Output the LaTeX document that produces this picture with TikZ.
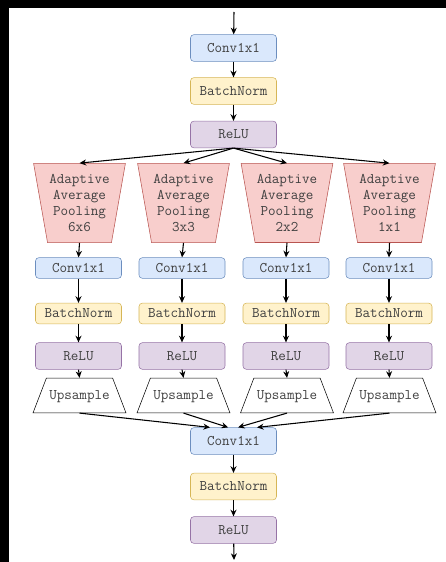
\documentclass[tikz,border=0pt]{standalone}
\usetikzlibrary{arrows.meta,shapes.geometric}

\definecolor{convfill}{HTML}{DAE8FC}
\definecolor{convline}{HTML}{6C8EBF}
\definecolor{bnfill}{HTML}{FFF2CC}
\definecolor{bnline}{HTML}{D6B656}
\definecolor{relufill}{HTML}{E1D5E7}
\definecolor{reluline}{HTML}{9673A6}
\definecolor{poolfill}{HTML}{F8CECC}
\definecolor{poolline}{HTML}{B85450}

\begin{document}
\begin{tikzpicture}[x=0.75pt,y=0.75pt]
\tikzstyle{every node}+=[inner sep=0pt, align=center, text=black!75, font=\ttfamily\fontsize{11}{12}\selectfont]
\tikzstyle{box}=[rounded corners=2.5pt, minimum width=64.5pt, minimum height=20pt]
\tikzstyle{conv}=[box, draw=convline, fill=convfill]
\tikzstyle{bnorm}=[box, draw=bnline, fill=bnfill]
\tikzstyle{relu}=[box, draw=reluline, fill=relufill]
\tikzstyle{small}=[minimum height=15.5pt]
\tikzstyle{pool}=[draw=poolline, fill=poolfill, trapezium, shape border rotate=180, trapezium left angle=80, trapezium right angle=80, inner xsep=1.3pt, inner ysep=8.2pt]
\tikzstyle{upsmp}=[draw=black, fill=white, trapezium, trapezium left angle=69, trapezium right angle=69, text height=7.5pt, text depth=2pt, inner xsep=2.2pt, inner ysep=8.25pt]
\tikzstyle{flow}=[draw=black, line width=0.8pt, -{Stealth[length=5pt,width=4.5pt]}]
% frame
\fill [black] (0,0) rectangle (446,562);
\fill [white] (9,0) rectangle (446,554);
% stem
\coordinate (in) at (234,550);
\node [conv] (conv0) at (233.5,514) {Conv1x1};
\node [bnorm] (bn0) at (233.5,471) {BatchNorm};
\node [relu] (relu0) at (233.5,427.5) {ReLU};
\draw [flow] (in) -- (conv0);
\draw [flow] (conv0) -- (bn0);
\draw [flow] (bn0) -- (relu0);
% pooling branches
\node [pool] (pool1) at (79.5,359) {Adaptive\\Average\\Pooling\\6x6};
\node [pool] (pool2) at (183.5,359) {Adaptive\\Average\\Pooling\\3x3};
\node [pool] (pool3) at (287,359) {Adaptive\\Average\\Pooling\\2x2};
\node [pool] (pool4) at (389.5,359) {Adaptive\\Average\\Pooling\\1x1};
\node [conv, small] (conv1) at (78.5,294) {Conv1x1};
\node [conv, small] (conv2) at (182,294) {Conv1x1};
\node [conv, small] (conv3) at (286,294) {Conv1x1};
\node [conv, small] (conv4) at (389,294) {Conv1x1};
\node [bnorm, small] (bn1) at (78.5,248.5) {BatchNorm};
\node [bnorm, small] (bn2) at (182,248.5) {BatchNorm};
\node [bnorm, small] (bn3) at (286,248.5) {BatchNorm};
\node [bnorm, small] (bn4) at (389,248.5) {BatchNorm};
\node [relu] (relu1) at (78.5,206) {ReLU};
\node [relu] (relu2) at (182,206) {ReLU};
\node [relu] (relu3) at (286,206) {ReLU};
\node [relu] (relu4) at (389,206) {ReLU};
\node [upsmp] (up1) at (79.5,166.5) {Upsample};
\node [upsmp] (up2) at (183.5,166.5) {Upsample};
\node [upsmp] (up3) at (287,166.5) {Upsample};
\node [upsmp] (up4) at (389.5,166.5) {Upsample};
\draw [flow] (relu0.south) -- (pool1.north);
\draw [flow] (relu0.south) -- (pool2.north);
\draw [flow] (relu0.south) -- (pool3.north);
\draw [flow] (relu0.south) -- (pool4.north);
\draw [flow] (pool1.south) -- (conv1.north);
\draw [flow] (pool2.south) -- (conv2.north);
\draw [flow] (pool3.south) -- (conv3.north);
\draw [flow] (pool4.south) -- (conv4.north);
\draw [flow] (conv1) -- (bn1);
\draw [flow] (conv2) -- (bn2);
\draw [flow] (conv3) -- (bn3);
\draw [flow] (conv4) -- (bn4);
\draw [flow] (bn1) -- (relu1);
\draw [flow] (bn2) -- (relu2);
\draw [flow] (bn3) -- (relu3);
\draw [flow] (bn4) -- (relu4);
\draw [flow] (relu1.south) -- (up1.north);
\draw [flow] (relu2.south) -- (up2.north);
\draw [flow] (relu3.south) -- (up3.north);
\draw [flow] (relu4.south) -- (up4.north);
% merge
\node [conv] (conv5) at (233.5,121) {Conv1x1};
\node [bnorm] (bn5) at (233.5,75.5) {BatchNorm};
\node [relu] (relu5) at (233.5,32) {ReLU};
\coordinate (out) at (234,2);
\draw [flow] (up1.south) -- ([xshift=-17.6pt]conv5.north);
\draw [flow] (up2.south) -- ([xshift=-4pt]conv5.north);
\draw [flow] (up3.south) -- ([xshift=3.4pt]conv5.north);
\draw [flow] (up4.south) -- ([xshift=17.6pt]conv5.north);
\draw [flow] (conv5) -- (bn5);
\draw [flow] (bn5) -- (relu5);
\draw [flow] (relu5) -- (out);
\end{tikzpicture}
\end{document}
